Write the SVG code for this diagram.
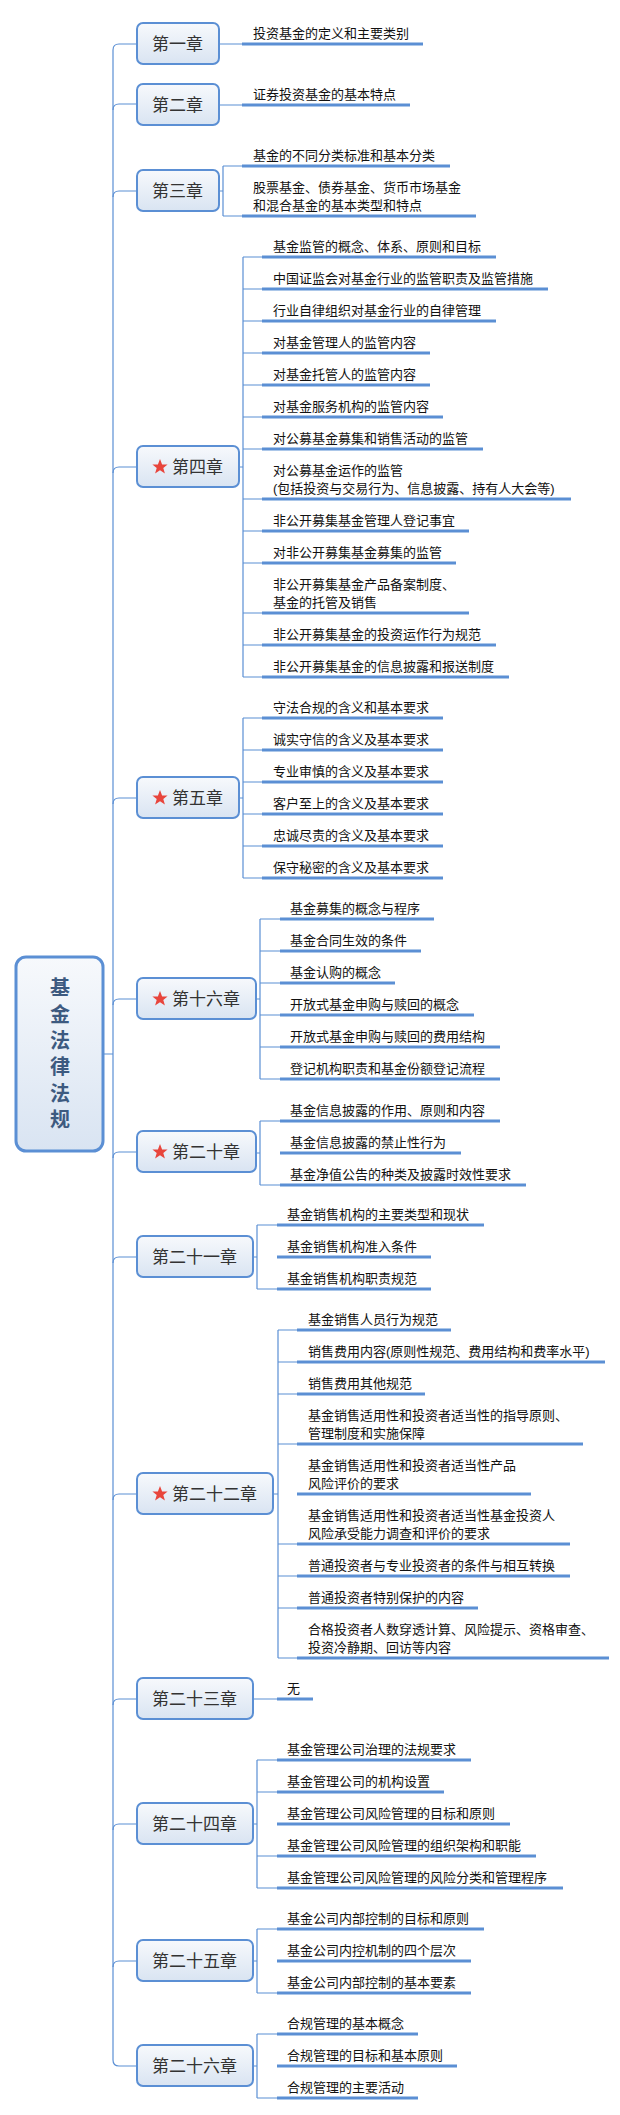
<svg xmlns="http://www.w3.org/2000/svg" width="620" height="2115" viewBox="0 0 620 2115">
<style>
.t{font-family:"Liberation Sans","Noto Sans CJK SC",sans-serif;font-size:13px;fill:#111}
.c{font-family:"Liberation Sans","Noto Sans CJK SC",sans-serif;font-size:17px;fill:#333}
.r{font-family:"Liberation Sans","Noto Sans CJK SC",sans-serif;font-size:20px;font-weight:bold;fill:#3d5a80;text-anchor:middle}
.box{fill:url(#g);stroke:#5b8fd4;stroke-width:2}
.ln{fill:none;stroke:#5b8fd4;stroke-width:1.2}
.ul{fill:none;stroke:#5b8fd4;stroke-width:3}
.st{fill:#e8453c}
</style>
<defs>
<linearGradient id="g" x1="0" y1="0" x2="0" y2="1"><stop offset="0" stop-color="#f7f9fc"/><stop offset="1" stop-color="#d9e4f2"/></linearGradient>
<path id="star" d="M0,-8 L2.1,-2.6 7.6,-2.5 3.3,1 4.9,6.5 0,3.3 -4.9,6.5 -3.3,1 -7.6,-2.5 -2.1,-2.6Z"/>
</defs>
<g id="connectors">
<path class="ln" d="M113,50 V2060 M103,1054 H113"/>
<path class="ln" d="M113,50 Q113,44 119,44 H137 M219,44 H242"/>
<path class="ln" d="M113,110 Q113,104 119,104 H137 M219,105 H242"/>
<path class="ln" d="M113,197 Q113,191 119,191 H137 M219,191 H223 M223,166 V216 M223,166 H242 M223,216 H242"/>
<path class="ln" d="M113,473 Q113,467 119,467 H137 M239,467 H243 M243,257 V677 M243,257 H262 M243,289 H262 M243,321 H262 M243,353 H262 M243,385 H262 M243,417 H262 M243,449 H262 M243,499 H262 M243,531 H262 M243,563 H262 M243,613 H262 M243,645 H262 M243,677 H262"/>
<path class="ln" d="M113,804 Q113,798 119,798 H137 M239,798 H243 M243,718 V878 M243,718 H262 M243,750 H262 M243,782 H262 M243,814 H262 M243,846 H262 M243,878 H262"/>
<path class="ln" d="M113,1005 Q113,999 119,999 H137 M256,999 H260 M260,919 V1079 M260,919 H280 M260,951 H280 M260,983 H280 M260,1015 H280 M260,1047 H280 M260,1079 H280"/>
<path class="ln" d="M113,1158 Q113,1152 119,1152 H137 M256,1153 H260 M260,1121 V1185 M260,1121 H280 M260,1185 H280"/>
<path class="ln" d="M113,1263 Q113,1257 119,1257 H137 M253,1257 H257 M257,1225 V1289 M257,1225 H277 M257,1289 H277"/>
<path class="ln" d="M113,1500 Q113,1494 119,1494 H137 M273,1494 H278 M278,1330 V1658 M278,1330 H297 M278,1362 H297 M278,1394 H297 M278,1444 H297 M278,1544 H297 M278,1576 H297 M278,1608 H297 M278,1658 H297"/>
<path class="ln" d="M113,1705 Q113,1699 119,1699 H137 M253,1699 H277"/>
<path class="ln" d="M113,1830 Q113,1824 119,1824 H137 M253,1824 H257 M257,1760 V1888 M257,1760 H277 M257,1792 H277 M257,1856 H277 M257,1888 H277"/>
<path class="ln" d="M113,1967 Q113,1961 119,1961 H137 M253,1961 H257 M257,1929 V1993 M257,1929 H277 M257,1993 H277"/>
<path class="ln" d="M113,2060 Q113,2066 119,2066 H137 M253,2066 H257 M257,2034 V2098 M257,2034 H277 M257,2098 H277"/>
</g>
<g id="root">
<rect x="16" y="957" width="87" height="194" rx="10" fill="url(#g)" stroke="#5b8fd4" stroke-width="3"/>
<text class="r" x="60" y="995">基</text><text class="r" x="60" y="1022">金</text><text class="r" x="60" y="1048">法</text><text class="r" x="60" y="1074">律</text><text class="r" x="60" y="1101">法</text><text class="r" x="60" y="1127">规</text>
</g>
<g id="ch1"><rect class="box" x="137" y="23" width="82" height="41" rx="6"/><text class="c" x="152" y="50">第一章</text>
<path class="ul" d="M242,44H423"/><text class="t" x="253" y="38">投资基金的定义和主要类别</text></g>
<g id="ch2"><rect class="box" x="137" y="84" width="82" height="41" rx="6"/><text class="c" x="152" y="111">第二章</text>
<path class="ul" d="M242,105H410"/><text class="t" x="253" y="99">证券投资基金的基本特点</text></g>
<g id="ch3"><rect class="box" x="137" y="170" width="82" height="41" rx="6"/><text class="c" x="152" y="197">第三章</text>
<path class="ul" d="M242,166H450M242,216H476"/><text class="t" x="253" y="160">基金的不同分类标准和基本分类</text>
<text class="t" x="253" y="192">股票基金、债券基金、货币市场基金</text><text class="t" x="253" y="210">和混合基金的基本类型和特点</text></g>
<g id="ch4"><rect class="box" x="137" y="446" width="102" height="41" rx="6"/><use href="#star" class="st" x="160" y="467"/><text class="c" x="172" y="473">第四章</text>
<path class="ul" d="M262,257H496M262,289H548M262,321H496M262,353H430M262,385H430M262,417H443M262,449H483M262,499H571M262,531H469M262,563H456M262,613H469M262,645H496M262,677H509"/>
<text class="t" x="273" y="251">基金监管的概念、体系、原则和目标</text>
<text class="t" x="273" y="283">中国证监会对基金行业的监管职责及监管措施</text>
<text class="t" x="273" y="315">行业自律组织对基金行业的自律管理</text>
<text class="t" x="273" y="347">对基金管理人的监管内容</text>
<text class="t" x="273" y="379">对基金托管人的监管内容</text>
<text class="t" x="273" y="411">对基金服务机构的监管内容</text>
<text class="t" x="273" y="443">对公募基金募集和销售活动的监管</text>
<text class="t" x="273" y="475">对公募基金运作的监管</text><text class="t" x="273" y="493">(包括投资与交易行为、信息披露、持有人大会等)</text>
<text class="t" x="273" y="525">非公开募集基金管理人登记事宜</text>
<text class="t" x="273" y="557">对非公开募集基金募集的监管</text>
<text class="t" x="273" y="589">非公开募集基金产品备案制度、</text><text class="t" x="273" y="607">基金的托管及销售</text>
<text class="t" x="273" y="639">非公开募集基金的投资运作行为规范</text>
<text class="t" x="273" y="671">非公开募集基金的信息披露和报送制度</text></g>
<g id="ch5"><rect class="box" x="137" y="777" width="102" height="41" rx="6"/><use href="#star" class="st" x="160" y="798"/><text class="c" x="172" y="804">第五章</text>
<path class="ul" d="M262,718H443M262,750H443M262,782H443M262,814H443M262,846H443M262,878H443"/>
<text class="t" x="273" y="712">守法合规的含义和基本要求</text>
<text class="t" x="273" y="744">诚实守信的含义及基本要求</text>
<text class="t" x="273" y="776">专业审慎的含义及基本要求</text>
<text class="t" x="273" y="808">客户至上的含义及基本要求</text>
<text class="t" x="273" y="840">忠诚尽责的含义及基本要求</text>
<text class="t" x="273" y="872">保守秘密的含义及基本要求</text></g>
<g id="ch16"><rect class="box" x="137" y="978" width="119" height="41" rx="6"/><use href="#star" class="st" x="160" y="999"/><text class="c" x="172" y="1005">第十六章</text>
<path class="ul" d="M280,919H434M280,951H421M280,983H395M280,1015H474M280,1047H500M280,1079H500"/>
<text class="t" x="290" y="913">基金募集的概念与程序</text>
<text class="t" x="290" y="945">基金合同生效的条件</text>
<text class="t" x="290" y="977">基金认购的概念</text>
<text class="t" x="290" y="1009">开放式基金申购与赎回的概念</text>
<text class="t" x="290" y="1041">开放式基金申购与赎回的费用结构</text>
<text class="t" x="290" y="1073">登记机构职责和基金份额登记流程</text></g>
<g id="ch20"><rect class="box" x="137" y="1131" width="119" height="41" rx="6"/><use href="#star" class="st" x="160" y="1152"/><text class="c" x="172" y="1158">第二十章</text>
<path class="ul" d="M280,1121H500M280,1153H461M280,1185H526"/>
<text class="t" x="290" y="1115">基金信息披露的作用、原则和内容</text>
<text class="t" x="290" y="1147">基金信息披露的禁止性行为</text>
<text class="t" x="290" y="1179">基金净值公告的种类及披露时效性要求</text></g>
<g id="ch21"><rect class="box" x="137" y="1236" width="116" height="41" rx="6"/><text class="c" x="152" y="1263">第二十一章</text>
<path class="ul" d="M277,1225H484M277,1257H431M277,1289H431"/>
<text class="t" x="287" y="1219">基金销售机构的主要类型和现状</text>
<text class="t" x="287" y="1251">基金销售机构准入条件</text>
<text class="t" x="287" y="1283">基金销售机构职责规范</text></g>
<g id="ch22"><rect class="box" x="137" y="1473" width="136" height="41" rx="6"/><use href="#star" class="st" x="160" y="1494"/><text class="c" x="172" y="1500">第二十二章</text>
<path class="ul" d="M297,1330H451M297,1362H605M297,1394H425M297,1444H583M297,1494H531M297,1544H570M297,1576H570M297,1608H478M297,1658H609"/>
<text class="t" x="308" y="1324">基金销售人员行为规范</text>
<text class="t" x="308" y="1356">销售费用内容(原则性规范、费用结构和费率水平)</text>
<text class="t" x="308" y="1388">销售费用其他规范</text>
<text class="t" x="308" y="1420">基金销售适用性和投资者适当性的指导原则、</text><text class="t" x="308" y="1438">管理制度和实施保障</text>
<text class="t" x="308" y="1470">基金销售适用性和投资者适当性产品</text><text class="t" x="308" y="1488">风险评价的要求</text>
<text class="t" x="308" y="1520">基金销售适用性和投资者适当性基金投资人</text><text class="t" x="308" y="1538">风险承受能力调查和评价的要求</text>
<text class="t" x="308" y="1570">普通投资者与专业投资者的条件与相互转换</text>
<text class="t" x="308" y="1602">普通投资者特别保护的内容</text>
<text class="t" x="308" y="1634">合格投资者人数穿透计算、风险提示、资格审查、</text><text class="t" x="308" y="1652">投资冷静期、回访等内容</text></g>
<g id="ch23"><rect class="box" x="137" y="1678" width="116" height="41" rx="6"/><text class="c" x="152" y="1705">第二十三章</text>
<path class="ul" d="M277,1699H313"/><text class="t" x="287" y="1693">无</text></g>
<g id="ch24"><rect class="box" x="137" y="1803" width="116" height="41" rx="6"/><text class="c" x="152" y="1830">第二十四章</text>
<path class="ul" d="M277,1760H471M277,1792H444M277,1824H510M277,1856H536M277,1888H563"/>
<text class="t" x="287" y="1754">基金管理公司治理的法规要求</text>
<text class="t" x="287" y="1786">基金管理公司的机构设置</text>
<text class="t" x="287" y="1818">基金管理公司风险管理的目标和原则</text>
<text class="t" x="287" y="1850">基金管理公司风险管理的组织架构和职能</text>
<text class="t" x="287" y="1882">基金管理公司风险管理的风险分类和管理程序</text></g>
<g id="ch25"><rect class="box" x="137" y="1940" width="116" height="41" rx="6"/><text class="c" x="152" y="1967">第二十五章</text>
<path class="ul" d="M277,1929H484M277,1961H471M277,1993H471"/>
<text class="t" x="287" y="1923">基金公司内部控制的目标和原则</text>
<text class="t" x="287" y="1955">基金公司内控机制的四个层次</text>
<text class="t" x="287" y="1987">基金公司内部控制的基本要素</text></g>
<g id="ch26"><rect class="box" x="137" y="2045" width="116" height="41" rx="6"/><text class="c" x="152" y="2072">第二十六章</text>
<path class="ul" d="M277,2034H418M277,2066H457M277,2098H418"/>
<text class="t" x="287" y="2028">合规管理的基本概念</text>
<text class="t" x="287" y="2060">合规管理的目标和基本原则</text>
<text class="t" x="287" y="2092">合规管理的主要活动</text></g>
</svg>
